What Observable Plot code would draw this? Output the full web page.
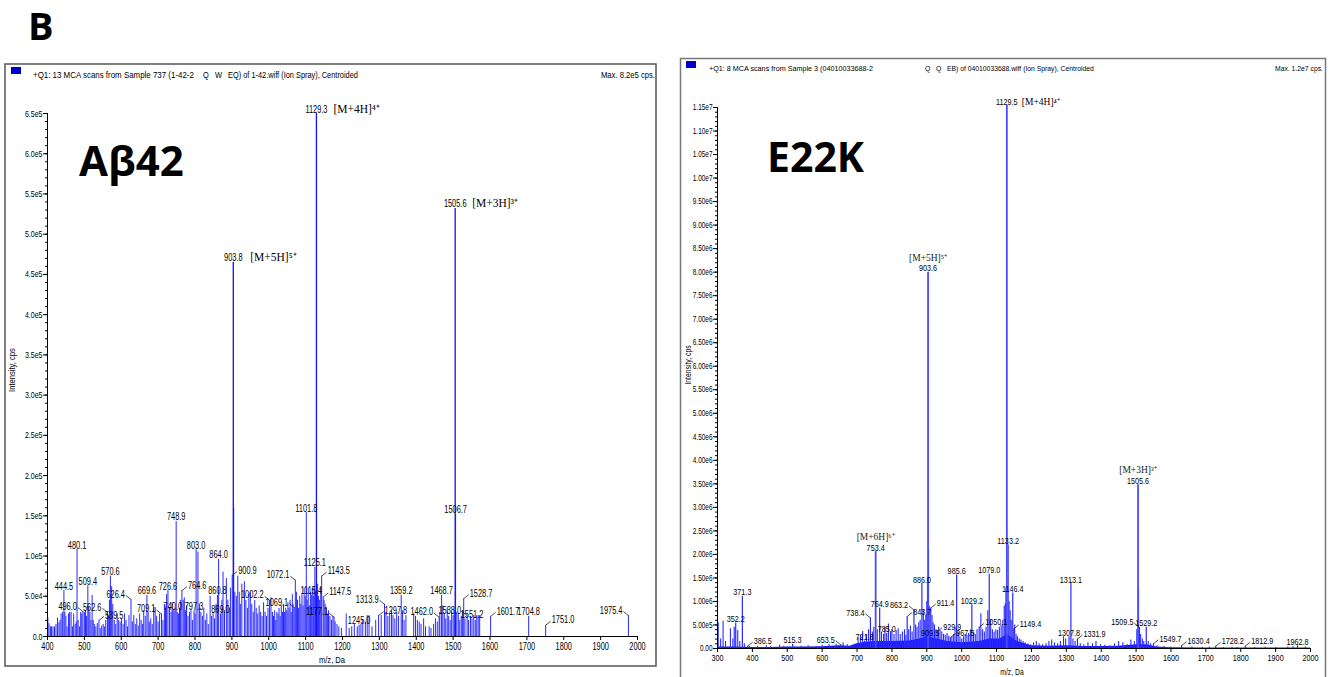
<!DOCTYPE html>
<html><head><meta charset="utf-8">
<script src="https://cdn.jsdelivr.net/npm/d3@7"></script>
<script src="https://cdn.jsdelivr.net/npm/@observablehq/plot@0.6"></script>
<style>
body{margin:0;background:#fff;}
#page{position:relative;width:1344px;height:677px;overflow:hidden;background:#fff;}
.plotwrap{position:absolute;}
#overlay{position:absolute;left:0;top:0;pointer-events:none;}
</style></head>
<body><div id="page"><div id="pl" class="plotwrap"></div><div id="pr" class="plotwrap"></div></div>
<script>
const NARROW = '"Liberation Sans",Arial,sans-serif';
const SERIF = '"Liberation Serif","Times New Roman",serif';
const BOLD = '"Open Sans",Lato,"Noto Sans",sans-serif';
const BLUE = "#2a2aff";

// ---------- Left panel (Aβ42) ----------
const leftXTicks = [400,500,600,700,800,900,1000,1100,1200,1300,1400,1500,1600,1700,1800,1900,2000];
const leftYTicks = [0,5e4,1e5,1.5e5,2e5,2.5e5,3e5,3.5e5,4e5,4.5e5,5e5,5.5e5,6e5,6.5e5];
const leftYLabels = ["0.0","5.0e4","1.0e5","1.5e5","2.0e5","2.5e5","3.0e5","3.5e5","4.0e5","4.5e5","5.0e5","5.5e5","6.0e5","6.5e5"];
// main ions: m/z, intensity, ion label, placement
const leftIons = [[903.8,4.65e5,"[M+5H]⁵⁺","right"],[1129.3,6.5e5,"[M+4H]⁴⁺","right"],[1505.6,5.32e5,"[M+3H]³⁺","right"]];
// labelled peaks: m/z, intensity, label side (c = above, l = left with leader, r = right with leader)
const leftLabeled = [[444.5,5.7e4,"c"],[480.1,1.08e5,"c"],[496.0,3.1e4,"l"],[509.4,6.3e4,"c"],[539.5,2.0e4,"r"],[562.6,3.0e4,"l"],[570.6,7.5e4,"c"],[626.4,4.6e4,"l"],[669.6,5.1e4,"c"],[709.1,2.8e4,"l"],[726.6,5.7e4,"c"],[740.0,3.2e4,"c"],[748.9,1.43e5,"c"],[764.6,5.7e4,"r"],[797.3,3.2e4,"c"],[803.0,1.08e5,"c"],[860.8,5.1e4,"c"],[864.0,9.6e4,"c"],[869.0,2.8e4,"c"],[900.9,7.6e4,"r"],[1002.2,4.5e4,"l"],[1069.1,3.6e4,"l"],[1072.1,7.0e4,"l"],[1101.8,1.54e5,"c"],[1115.4,5.1e4,"c"],[1125.1,8.6e4,"c"],[1143.5,7.5e4,"r"],[1147.5,4.9e4,"r"],[1177.1,2.4e4,"l"],[1245.0,1.4e4,"c"],[1297.8,2.6e4,"r"],[1313.9,4.0e4,"l"],[1359.2,5.1e4,"c"],[1462.0,2.4e4,"l"],[1468.7,5.1e4,"c"],[1506.7,1.52e5,"c"],[1528.7,4.7e4,"r"],[1538.0,2.6e4,"l"],[1551.2,2.2e4,"c"],[1601.7,2.5e4,"r"],[1704.8,2.5e4,"c"],[1751.0,1.4e4,"r"],[1975.4,2.6e4,"l"]];
// unlabelled centroid bars: m/z, intensity
const leftNoise = [[401,2.3e4],[404,1.6e4],[408,1.2e4],[411,1.2e4],[415,1.2e4],[419,1.2e4],[423,1.5e4],[427,2.3e4],[431,1.7e4],[434,2.0e4],[437,2.8e4],[441,3.0e4],[447,3.0e4],[450,2.5e4],[453,1.2e4],[457,2.8e4],[460,3.0e4],[464,3.0e4],[468,1.2e4],[471,2.8e4],[475,1.5e4],[478,1.8e4],[483,2.0e4],[487,1.2e4],[490,3.0e4],[493,2.8e4],[500,3.0e4],[503,3.2e4],[506,2.5e4],[512,3.6e4],[515,3.0e4],[518,2.0e4],[521,5.1e4],[524,2.0e4],[527,1.5e4],[531,1.2e4],[535,1.6e4],[543,1.0e4],[547,1.3e4],[551,1.5e4],[555,1.2e4],[558,2.0e4],[566,2.5e4],[568,4.5e4],[574,6.2e4],[577,4.0e4],[581,2.0e4],[585,1.5e4],[589,2.8e4],[593,2.0e4],[597,1.8e4],[601,2.2e4],[605,1.5e4],[609,2.8e4],[613,2.0e4],[617,1.2e4],[621,2.6e4],[630,1.8e4],[634,2.6e4],[638,1.5e4],[642,2.2e4],[646,1.3e4],[650,2.8e4],[654,2.0e4],[658,1.5e4],[661,3.2e4],[665,2.5e4],[673,3.0e4],[676,1.8e4],[680,2.2e4],[684,1.5e4],[688,3.6e4],[692,3.6e4],[696,2.5e4],[700,1.8e4],[704,2.8e4],[713,2.0e4],[717,4.0e4],[720,3.5e4],[723,5.2e4],[731,3.5e4],[735,3.0e4],[738,4.2e4],[743,3.2e4],[746,3.5e4],[752,3.0e4],[755,2.8e4],[758,3.5e4],[761,4.5e4],[768,4.5e4],[771,4.8e4],[774,3.2e4],[777,3.8e4],[781,2.5e4],[785,3.0e4],[789,3.2e4],[793,2.0e4],[800,2.8e4],[808,1.05e5],[812,4.0e4],[816,3.0e4],[820,2.5e4],[824,3.5e4],[828,2.0e4],[832,2.8e4],[836,1.5e4],[841,5.0e4],[845,2.5e4],[849,3.0e4],[853,2.2e4],[857,4.0e4],[873,4.5e4],[876,8.0e4],[880,3.2e4],[885,7.2e4],[889,4.5e4],[893,3.5e4],[896,6.0e4],[905,1.6e5],[908,5.5e4],[912,5.0e4],[916,7.5e4],[920,5.5e4],[923,4.0e4],[927,6.5e4],[934,6.8e4],[938,4.5e4],[942,3.5e4],[946,5.2e4],[950,5.5e4],[954,4.0e4],[958,3.0e4],[962,4.5e4],[966,3.5e4],[970,2.8e4],[974,3.8e4],[978,3.0e4],[982,2.5e4],[986,4.2e4],[990,3.0e4],[994,2.5e4],[998,3.5e4],[1006,4.8e4],[1010,3.0e4],[1013,2.5e4],[1016,3.2e4],[1019,2.0e4],[1022,3.0e4],[1025,2.8e4],[1028,3.5e4],[1031,2.5e4],[1034,3.8e4],[1037,3.0e4],[1040,4.0e4],[1043,3.0e4],[1046,3.5e4],[1049,3.2e4],[1052,4.2e4],[1055,3.5e4],[1058,4.5e4],[1061,3.0e4],[1064,5.2e4],[1066,4.0e4],[1075,5.5e4],[1078,4.5e4],[1081,3.5e4],[1084,5.0e4],[1087,4.0e4],[1090,5.2e4],[1093,3.8e4],[1096,6.0e4],[1099,5.0e4],[1104,4.5e4],[1107,6.0e4],[1110,3.8e4],[1113,5.5e4],[1118,6.0e4],[1121,5.0e4],[1123,6.2e4],[1127,5.5e4],[1132,6.5e4],[1135,5.0e4],[1138,4.5e4],[1141,6.0e4],[1150,4.5e4],[1153,4.0e4],[1156,3.5e4],[1159,2.8e4],[1162,3.2e4],[1166,2.5e4],[1170,2.0e4],[1174,2.5e4],[1180,1.8e4],[1185,1.5e4],[1190,1.2e4],[1197,1.0e4],[1210,2.8e4],[1218,1.0e4],[1225,1.2e4],[1232,1.5e4],[1240,1.2e4],[1250,1.5e4],[1255,2.0e4],[1262,1.8e4],[1267,2.6e4],[1272,2.6e4],[1280,1.2e4],[1290,2.0e4],[1305,2.6e4],[1318,3.0e4],[1323,2.5e4],[1328,2.8e4],[1333,3.2e4],[1337,2.6e4],[1342,2.2e4],[1347,3.0e4],[1352,2.5e4],[1363,3.2e4],[1367,2.0e4],[1372,2.6e4],[1393,2.8e4],[1398,2.5e4],[1403,2.0e4],[1408,1.8e4],[1413,1.5e4],[1420,2.2e4],[1425,1.2e4],[1435,1.2e4],[1440,1.0e4],[1447,1.5e4],[1452,2.2e4],[1457,1.8e4],[1464,3.0e4],[1472,3.8e4],[1476,2.8e4],[1480,2.2e4],[1484,3.5e4],[1488,2.5e4],[1492,2.0e4],[1496,3.0e4],[1500,2.6e4],[1503,3.2e4],[1510,3.0e4],[1514,2.8e4],[1518,2.0e4],[1522,2.5e4],[1525,3.2e4],[1532,2.2e4],[1542,2.0e4],[1547,2.5e4],[1556,2.6e4],[1560,2.0e4],[1564,2.6e4],[1568,2.6e4],[1572,2.6e4]];

// ---------- Right panel (E22K) ----------
const rightXTicks = [300,400,500,600,700,800,900,1000,1100,1200,1300,1400,1500,1600,1700,1800,1900,2000];
const rightYTicks = [0,5e5,1e6,1.5e6,2e6,2.5e6,3e6,3.5e6,4e6,4.5e6,5e6,5.5e6,6e6,6.5e6,7e6,7.5e6,8e6,8.5e6,9e6,9.5e6,1e7,1.05e7,1.1e7,1.15e7];
const rightYLabels = ["0.00","5.00e5","1.00e6","1.50e6","2.00e6","2.50e6","3.00e6","3.50e6","4.00e6","4.50e6","5.00e6","5.50e6","6.00e6","6.50e6","7.00e6","7.50e6","8.00e6","8.50e6","9.00e6","9.50e6","1.00e7","1.05e7","1.10e7","1.15e7"];
const rightIons = [[753.4,2.06e6,"[M+6H]⁶⁺","above"],[903.6,8.0e6,"[M+5H]⁵⁺","above"],[1129.5,1.154e7,"[M+4H]⁴⁺","right"],[1505.6,3.48e6,"[M+3H]³⁺","above"]];
const rightLabeled = [[352.2,5.4e5,"c"],[371.3,1.11e6,"c"],[386.5,5.0e4,"r"],[515.3,9.0e4,"c"],[653.5,8.0e4,"l"],[721.8,1.6e5,"c"],[738.4,6.5e5,"l"],[764.9,8.6e5,"c"],[785.0,3.2e5,"c"],[843.7,6.8e5,"r"],[863.2,8.2e5,"l"],[886.0,1.38e6,"c"],[909.5,2.5e5,"c"],[911.4,8.6e5,"r"],[929.9,3.6e5,"r"],[967.5,2.3e5,"r"],[985.6,1.56e6,"c"],[1029.2,9.3e5,"c"],[1050.1,4.5e5,"r"],[1079.0,1.58e6,"c"],[1133.2,2.2e6,"c"],[1146.4,1.18e6,"c"],[1149.4,4.2e5,"r"],[1307.8,2.5e5,"c"],[1313.1,1.38e6,"c"],[1331.9,2.0e5,"r"],[1509.5,4.5e5,"l"],[1529.2,4.5e5,"c"],[1549.7,1.0e5,"r"],[1630.4,6.0e4,"r"],[1728.2,5.0e4,"r"],[1812.9,5.0e4,"r"],[1962.8,6.0e4,"c"]];
const rightSpikes = [[302,5.5e5],[309,2.0e5],[316,5.8e5],[323,1.5e5],[337,4.2e5],[344,2.0e5],[348,4.5e5],[358,3.8e5],[364,1.5e5],[377,1.0e5],[392,4.0e4],[415,5.0e4],[440,6.0e4],[452,4.0e4],[478,7.0e4],[490,5.0e4],[540,5.0e4],[560,6.0e4],[585,4.0e4],[600,7.0e4],[620,8.0e4],[640,9.0e4],[660,1.2e5],[672,8.0e4],[690,7.0e4],[703,2.3e5],[710,2.8e5],[716,3.6e5],[727,3.0e5],[733,4.0e5],[744,3.5e5],[748,4.5e5],[758,4.0e5],[770,3.5e5],[776,3.0e5],[780,4.5e5],[790,5.2e5],[796,3.5e5],[800,4.0e5],[806,3.0e5],[812,3.8e5],[818,4.2e5],[824,3.0e5],[830,3.5e5],[836,4.0e5],[840,2.8e5],[848,4.0e5],[853,4.8e5],[858,3.5e5],[868,5.0e5],[872,4.5e5],[877,5.5e5],[881,6.0e5],[890,8.0e5],[894,6.0e5],[897,7.0e5],[900,1.0e6],[902,1.5e6],[905,2.1e6],[907,9.0e5],[915,7.0e5],[918,5.5e5],[922,5.0e5],[926,4.0e5],[934,4.5e5],[938,3.8e5],[943,3.5e5],[948,3.0e5],[953,2.8e5],[958,3.2e5],[963,2.6e5],[972,2.5e5],[977,3.0e5],[981,4.5e5],[990,3.5e5],[995,2.5e5],[1000,2.0e5],[1005,2.5e5],[1010,3.0e5],[1015,2.8e5],[1020,3.2e5],[1025,4.0e5],[1034,3.5e5],[1039,3.0e5],[1044,4.0e5],[1055,7.4e5],[1060,4.0e5],[1065,3.5e5],[1070,4.5e5],[1075,8.0e5],[1083,6.0e5],[1088,4.0e5],[1093,3.5e5],[1098,4.0e5],[1103,3.8e5],[1108,4.5e5],[1113,5.0e5],[1118,6.0e5],[1122,9.0e5],[1125,9.5e5],[1127,1.3e6],[1136,1.0e6],[1139,8.0e5],[1142,6.0e5],[1152,5.0e5],[1156,3.0e5],[1160,2.5e5],[1165,2.0e5],[1170,1.8e5],[1176,1.5e5],[1182,1.2e5],[1190,1.0e5],[1198,8.0e4],[1206,1.2e5],[1214,1.5e5],[1222,1.0e5],[1232,8.0e4],[1242,1.0e5],[1250,1.5e5],[1258,1.8e5],[1266,1.2e5],[1275,1.0e5],[1283,1.5e5],[1292,2.5e5],[1298,2.0e5],[1319,2.0e5],[1325,1.5e5],[1340,1.0e5],[1350,8.0e4],[1362,1.2e5],[1375,1.0e5],[1385,1.5e5],[1398,8.0e4],[1410,7.0e4],[1425,6.0e4],[1438,1.0e5],[1450,1.5e5],[1462,1.2e5],[1475,8.0e4],[1485,1.8e5],[1495,1.5e5],[1502,4.0e5],[1507,1.25e6],[1513,3.0e5],[1518,2.0e5],[1522,1.5e5],[1535,1.5e5],[1542,1.0e5],[1560,6.0e4],[1580,4.0e4],[1600,3.0e4],[1620,2.0e4],[1660,3.0e4],[1690,2.5e4],[1710,3.0e4],[1750,2.0e4],[1775,2.5e4],[1790,2.0e4],[1840,2.0e4],[1870,2.5e4],[1900,2.0e4],[1935,3.0e4],[1950,3.5e4],[1985,3.0e4]];
const rightBase = [[300,3.0e4],[350,3.0e4],[400,2.0e4],[450,2.0e4],[500,3.0e4],[550,3.0e4],[600,3.5e4],[650,6.0e4],[680,5.0e4],[700,1.0e5],[720,1.3e5],[750,1.5e5],[800,1.5e5],[850,1.6e5],[880,2.0e5],[900,2.5e5],[930,2.0e5],[960,1.5e5],[1000,1.2e5],[1050,1.5e5],[1080,2.0e5],[1110,2.0e5],[1130,3.0e5],[1160,1.5e5],[1200,6.0e4],[1250,5.0e4],[1300,6.0e4],[1350,4.0e4],[1400,4.0e4],[1450,5.0e4],[1500,8.0e4],[1530,8.0e4],[1560,3.0e4],[1600,1.5e4],[1700,1.0e4],[1800,1.0e4],[2000,1.0e4]];

// ---------- helpers ----------
// squeeze sans text horizontally (the original uses a narrow typeface)
function condense(root, f) {
  root.querySelectorAll("text").forEach(el => {
    const ff = getComputedStyle(el).fontFamily;
    if (/Serif/.test(ff)) return;
    const L = el.getComputedTextLength();
    if (L > 0) { el.setAttribute("textLength", (L * f).toFixed(2)); el.setAttribute("lengthAdjust", "spacingAndGlyphs"); }
  });
}
function labelMarks(peaks, ions, pxX, pxY, fs, ionFs, ionDx) {
  const C = peaks.filter(d => d[2] === "c"), Lf = peaks.filter(d => d[2] === "l"), R = peaks.filter(d => d[2] === "r");
  const fmt = d => d[0].toFixed(1);
  const font = {fontFamily: NARROW, fontSize: fs, fill: "#000"};
  return [
    Plot.text(C, {x: d => d[0], y: d => d[1], text: fmt, lineAnchor: "bottom", dy: -1, ...font}),
    Plot.link(Lf, {x1: d => d[0], y1: d => d[1], x2: d => d[0] - 5 * pxX, y2: d => d[1] + 4 * pxY, stroke: "#222", strokeWidth: 0.8}),
    Plot.text(Lf, {x: d => d[0], y: d => d[1], text: fmt, textAnchor: "end", dx: -6, dy: -5, ...font}),
    Plot.link(R, {x1: d => d[0], y1: d => d[1], x2: d => d[0] + 5 * pxX, y2: d => d[1] + 4 * pxY, stroke: "#222", strokeWidth: 0.8}),
    Plot.text(R, {x: d => d[0], y: d => d[1], text: fmt, textAnchor: "start", dx: 6, dy: -5, ...font}),
    Plot.text(ions, {x: d => d[0], y: d => d[1], text: fmt, lineAnchor: "bottom", dy: -1, ...font}),
    Plot.text(ions.filter(d => d[3] === "right"), {x: d => d[0], y: d => d[1], text: d => d[2], textAnchor: "start", dx: ionDx, lineAnchor: "bottom", dy: -1, fontFamily: SERIF, fontSize: ionFs, fill: "#000"}),
    Plot.text(ions.filter(d => d[3] === "above"), {x: d => d[0], y: d => d[1], text: d => d[2], lineAnchor: "bottom", dy: -2 - fs, fontFamily: SERIF, fontSize: ionFs, fill: "#222"})
  ];
}

// ---------- left plot ----------
{
  const W = 651, H = 602, ml = 42, mt = 49, mb = 30, mr = 19;
  const pxX = (2000 - 400) / (W - ml - mr), pxY = 6.5e5 / (H - mt - mb);
  const ymap = new Map(leftYTicks.map((t, i) => [t, leftYLabels[i]]));
  const p = Plot.plot({
    width: W, height: H, marginLeft: ml, marginTop: mt, marginBottom: mb, marginRight: mr,
    x: {domain: [400, 2000]}, y: {domain: [0, 6.5e5]},
    style: {background: "transparent", fontFamily: NARROW, fontSize: "9.5px", color: "#000", overflow: "visible"},
    marks: [
      Plot.ruleX(leftNoise, {x: d => d[0], y1: 0, y2: d => d[1], stroke: BLUE, strokeWidth: 1}),
      Plot.ruleX(leftLabeled, {x: d => d[0], y1: 0, y2: d => d[1], stroke: BLUE, strokeWidth: 1}),
      Plot.ruleX(leftIons, {x: d => d[0], y1: 0, y2: d => d[1], stroke: "#1010ff", strokeWidth: 1.3}),
      Plot.ruleY([0], {stroke: "#000"}),
      Plot.ruleX([400], {stroke: "#000"}),
      Plot.axisY({ticks: d3.range(0, 6.5e5 + 1, 1e4), tickSize: 2, text: null, label: null}),
      Plot.axisY({ticks: leftYTicks, tickSize: 4, tickPadding: 1, tickFormat: d => ymap.get(d), label: null, fontSize: 9.5}),
      Plot.axisX({ticks: leftXTicks, tickSize: 4, tickPadding: 2, tickFormat: d => String(d), label: null, fontSize: 10}),
      ...labelMarks(leftLabeled, leftIons, pxX, pxY, 10, 11.5, 17)
    ]
  });
  const wrap = document.getElementById("pl");
  wrap.style.left = "5px"; wrap.style.top = "64px";
  wrap.appendChild(p);
  condense(p, 0.74);
}

// ---------- right plot ----------
{
  const W = 645, H = 619, ml = 37, mt = 49, mb = 29, mr = 15;
  const pxX = (2000 - 300) / (W - ml - mr), pxY = 1.15e7 / (H - mt - mb);
  const ymap = new Map(rightYTicks.map((t, i) => [t, rightYLabels[i]]));
  const p = Plot.plot({
    width: W, height: H, marginLeft: ml, marginTop: mt, marginBottom: mb, marginRight: mr,
    x: {domain: [300, 2000]}, y: {domain: [0, 1.15e7]},
    style: {background: "transparent", fontFamily: NARROW, fontSize: "8.5px", color: "#000", overflow: "visible"},
    marks: [
      Plot.areaY(rightBase, {x: d => d[0], y: d => d[1], fill: "#1a1aff"}),
      Plot.ruleX(rightSpikes, {x: d => d[0], y1: 0, y2: d => d[1], stroke: BLUE, strokeWidth: 1.1}),
      Plot.ruleX(rightLabeled, {x: d => d[0], y1: 0, y2: d => d[1], stroke: BLUE, strokeWidth: 1.2}),
      Plot.ruleX(rightIons, {x: d => d[0], y1: 0, y2: d => d[1], stroke: "#4a4aff", strokeWidth: 1.8}),
      Plot.ruleY([0], {stroke: "#000"}),
      Plot.ruleX([300], {stroke: "#000"}),
      Plot.axisY({ticks: d3.range(0, 1.15e7 + 1, 1e5), tickSize: 2, text: null, label: null}),
      Plot.axisY({ticks: rightYTicks, tickSize: 4, tickPadding: 1, tickFormat: d => ymap.get(d), label: null, fontSize: 8.5}),
      Plot.axisX({ticks: rightXTicks, tickSize: 4, tickPadding: 2, tickFormat: d => String(d), label: null, fontSize: 9.5}),
      ...labelMarks(rightLabeled, rightIons, pxX, pxY, 9.5, 9.5, 15)
    ]
  });
  const wrap = document.getElementById("pr");
  wrap.style.left = "680px"; wrap.style.top = "58px";
  wrap.appendChild(p);
  condense(p, 0.76);
}

// ---------- overlay: frames, headers, titles ----------
{
  const svg = d3.select("#page").append("svg").attr("id", "overlay").attr("width", 1344).attr("height", 677);
  svg.append("rect").attr("x", 5).attr("y", 64).attr("width", 651).attr("height", 602).attr("fill", "none").attr("stroke", "#555").attr("stroke-width", 1.5);
  svg.append("rect").attr("x", 680.5).attr("y", 58.5).attr("width", 645).attr("height", 640).attr("fill", "none").attr("stroke", "#777").attr("stroke-width", 1.5);
  svg.append("rect").attr("x", 11).attr("y", 67).attr("width", 10).attr("height", 7).attr("fill", "#0000cc");
  svg.append("rect").attr("x", 686).attr("y", 61).attr("width", 10).attr("height", 7).attr("fill", "#0000cc");
  const t = (x, y, s, size, fam, anchor, f, extra) => {
    const e = svg.append("text").attr("x", x).attr("y", y).attr("font-size", size).attr("font-family", fam).attr("text-anchor", anchor || "start").attr("fill", "#000").style("white-space", "pre").text(s);
    if (extra) extra(e);
    if (f) { const L = e.node().getComputedTextLength(); e.attr("textLength", (L * f).toFixed(2)).attr("lengthAdjust", "spacingAndGlyphs"); }
    return e;
  };
  t(33, 78, "+Q1: 13 MCA scans from Sample 737 (1-42-2", 9, NARROW, "start", 0.88);
  t(203, 78, "Q   W   EQ) of 1-42.wiff (Ion Spray), Centroided", 9, NARROW, "start", 0.82);
  t(655, 78, "Max. 8.2e5 cps.", 9, NARROW, "end", 0.85);
  t(709, 71, "+Q1: 8 MCA scans from Sample 3 (04010033688-2", 8, NARROW, "start", 0.9);
  t(925, 71, "Q   Q   EB) of 04010033688.wiff (Ion Spray), Centroided", 8, NARROW, "start", 0.85);
  t(1323, 71, "Max. 1.2e7 cps.", 8, NARROW, "end", 0.85);
  t(0, 0, "Intensity, cps", 9.5, NARROW, "middle", 0.8, e => e.attr("transform", "translate(15,370) rotate(-90)"));
  t(0, 0, "Intensity, cps", 8.5, NARROW, "middle", 0.8, e => e.attr("transform", "translate(691,365) rotate(-90)"));
  t(332, 663, "m/z, Da", 9.5, NARROW, "middle", 0.8);
  t(1012, 675, "m/z, Da", 8.5, NARROW, "middle", 0.8);
  t(28, 40, "B", 38, BOLD, "start", 0, e => e.attr("font-weight", 700));
  t(79, 176, "Aβ42", 42, BOLD, "start", 0, e => e.attr("font-weight", 700));
  t(767, 172, "E22K", 41, BOLD, "start", 0, e => e.attr("font-weight", 700));
}
</script>
</body></html>
